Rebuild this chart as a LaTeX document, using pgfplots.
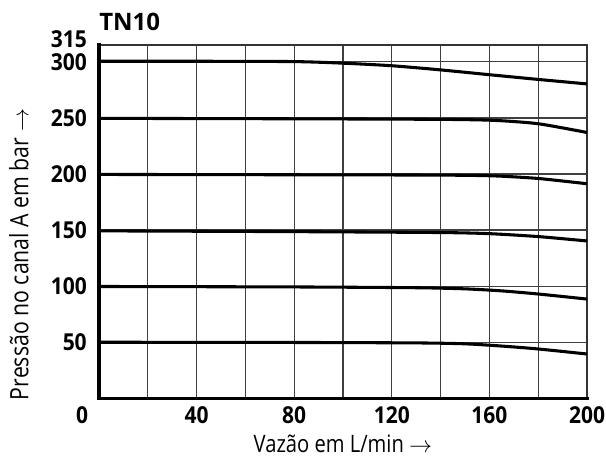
\documentclass[border=0pt]{standalone}
\usepackage{pgfplots}
\pgfplotsset{compat=1.18}
\usepackage{fontspec}
\setmainfont{Open Sans}
\newfontfamily\tickfont[FakeStretch=0.9]{Open Sans}
\newfontfamily\labfont[FakeStretch=0.84]{Open Sans}
\begin{document}
\begin{tikzpicture}
\begin{axis}[
  name=a,
  scale only axis,
  width=366pt, height=265pt,
  xmin=0, xmax=200, ymin=0, ymax=315,
  clip=false,
  xtick={0,20,...,200},
  xticklabels={,,40,,80,,120,,160,,200},
  ytick={50,100,150,200,250,300},
  yticklabels={50,100,150,200,250,300},
  extra y ticks={315},
  extra y tick labels={315},
  extra y tick style={grid=none, yticklabel style={yshift=4.5pt}},
  major tick length=0pt,
  grid=major,
  grid style={line width=0.9pt, color=black!75},
  axis line style={line width=0.8pt, color=black!80},
  /pgf/number format/assume math mode=true,
  ticklabel style={font=\tickfont\bfseries\fontsize{17.5}{17.5}\selectfont, inner sep=0pt},
  xticklabel style={anchor=north, yshift=-6pt},
  yticklabel style={anchor=east, xshift=-9pt},
]
\addplot[line width=2.3pt, smooth, tension=0.4] coordinates {(0,300.5) (40,300.5) (80,300.2) (100,298.8) (120,296.5) (140,292.8) (160,288.5) (180,284.3) (200,280.3)};
\addplot[line width=2.3pt, smooth, tension=0.4] coordinates {(0,249.6) (80,249.2) (140,248.7) (162,247.8) (180,244.8) (200,237)};
\addplot[line width=2.3pt, smooth, tension=0.4] coordinates {(0,199.6) (80,199.3) (140,199) (162,198.3) (180,196) (200,191.3)};
\addplot[line width=2.3pt, smooth, tension=0.4] coordinates {(0,149.3) (80,148.6) (140,147.8) (160,146.8) (180,144.2) (200,140.3)};
\addplot[line width=2.3pt, smooth, tension=0.4] coordinates {(0,99.7) (80,99.3) (130,98.6) (150,97.6) (165,95.8) (180,93) (200,88.5)};
\addplot[line width=2.3pt, smooth, tension=0.4] coordinates {(0,50) (80,49.8) (130,49.4) (150,48.6) (165,46.6) (180,44) (200,39.5)};
\draw[line width=2.3pt, line cap=rect] (rel axis cs:0,1) -- (rel axis cs:0,0) -- (rel axis cs:1,0);
\end{axis}
\node[font=\tickfont\bfseries\fontsize{17.5}{17.5}\selectfont, anchor=north, inner sep=0pt] at ([xshift=-12.75pt, yshift=-6pt]a.south west) {0};
\node[font=\bfseries\fontsize{18}{18}\selectfont, anchor=base west, inner sep=0pt] at ([yshift=10.5pt]a.north west) {TN10};
\node[font=\labfont\fontsize{18}{18}\selectfont, anchor=center, inner sep=0pt] at ([yshift=-34pt]a.south) {Vazão em L/min $\rightarrow$};
\node[font=\labfont\fontsize{19}{19}\selectfont, rotate=90, anchor=west, inner sep=0pt] at ([xshift=-60pt, yshift=-1.5pt]a.south west) {Pressão no canal A em bar $\rightarrow$};
\pgfresetboundingbox
\useasboundingbox ([xshift=-74.25pt, yshift=-45pt]a.south west) rectangle ([xshift=14.25pt, yshift=33.75pt]a.north east);
\end{tikzpicture}
\end{document}
